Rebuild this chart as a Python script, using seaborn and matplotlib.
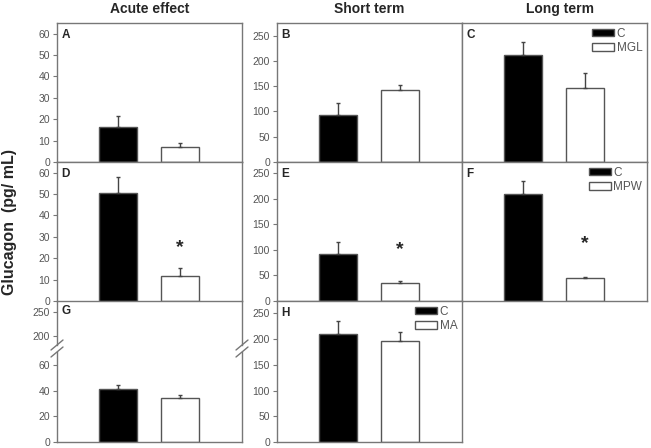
import numpy as np
import pandas as pd
import matplotlib
matplotlib.use("Agg")
import matplotlib.pyplot as plt
from matplotlib.lines import Line2D
import seaborn as sns

# wartości (średnia, błąd w górę)
acute_mgl = [16.5, 7.0]
acute_mgl_err = [5.1, 1.9]
short_mgl = [93.5, 142.6]
short_mgl_err = [22.5, 10.0]
long_mgl = [211.0, 146.0]
long_mgl_err = [26.0, 30.0]

acute_mpw = [50.5, 11.5]
acute_mpw_err = [7.6, 3.9]
short_mpw = [92.0, 35.7]
short_mpw_err = [23.6, 2.6]
long_mpw = [210.0, 44.8]
long_mpw_err = [25.7, 2.6]

acute_ma = [41.1, 33.9]
acute_ma_err = [3.4, 2.3]
short_ma = [210.0, 196.0]
short_ma_err = [25.7, 17.0]

star_pos = {'D': 25, 'E': 100, 'F': 112}
col_titles = ['Acute effect', 'Short term', 'Long term']

W, H = 651, 448
GRAY = '#777777'
TXT = '#555555'

sns.set_style('white')
plt.rcParams['font.family'] = ['Liberation Sans', 'DejaVu Sans']

fig = plt.figure(figsize=(W / 100, H / 100), dpi=100)


def box(left, top, right, bottom):
    return [left / W, 1 - bottom / H, (right - left) / W, (bottom - top) / H]


def style_ax(ax, ylim, ticks, show_ticks=True):
    ax.set_xlim(-0.985, 2.0)
    ax.set_ylim(*ylim)
    ax.set_xticks([])
    ax.set_xlabel('')
    ax.set_ylabel('')
    for s in ax.spines.values():
        s.set_color(GRAY)
        s.set_linewidth(1.0)
    if show_ticks:
        ax.set_yticks(ticks)
        ax.tick_params(axis='y', direction='out', length=3, width=0.8, color=GRAY,
                       labelsize=7.5, labelcolor=TXT, pad=2, left=True)
    else:
        ax.set_yticks([])


def draw_bars(ax, labels, means, errs, legend=False):
    df = pd.DataFrame({'grupa': labels, 'wartosc': means})
    sns.barplot(data=df, x='grupa', y='wartosc', hue='grupa', order=labels,
                hue_order=labels, palette=['black', 'white'], edgecolor='#555555',
                linewidth=1.0, width=0.61, legend=legend, ax=ax)
    ax.errorbar([0, 1], means, yerr=[[0, 0], errs], fmt='none', ecolor='#444444',
                elinewidth=1.0, capsize=1.5, capthick=1.0)
    if legend:
        sns.move_legend(ax, 'upper right', title=None, frameon=False, fontsize=8.5,
                        handlelength=1.9, handleheight=0.6, handletextpad=0.2,
                        labelspacing=0.2, borderaxespad=0.3, borderpad=0.1)
        for t in ax.get_legend().get_texts():
            t.set_color(TXT)


def panel_label(ax, letter):
    ax.text(0.025, 0.96, letter, transform=ax.transAxes, fontsize=8.5,
            fontweight='bold', va='top', ha='left')


cols = [(57, 242), (277, 462), (462, 647)]
rows = [(23, 162), (162, 301), (301, 442)]

panels = [
    ('A', 0, 0, ['C', 'MGL'], acute_mgl, acute_mgl_err, (0, 65), range(0, 61, 10), True, False),
    ('B', 0, 1, ['C', 'MGL'], short_mgl, short_mgl_err, (0, 275), range(0, 251, 50), True, False),
    ('C', 0, 2, ['C', 'MGL'], long_mgl, long_mgl_err, (0, 275), range(0, 251, 50), False, True),
    ('D', 1, 0, ['C', 'MPW'], acute_mpw, acute_mpw_err, (0, 65), range(0, 61, 10), True, False),
    ('E', 1, 1, ['C', 'MPW'], short_mpw, short_mpw_err, (0, 272), range(0, 251, 50), True, False),
    ('F', 1, 2, ['C', 'MPW'], long_mpw, long_mpw_err, (0, 272), range(0, 251, 50), False, True),
    ('H', 2, 1, ['C', 'MA'], short_ma, short_ma_err, (0, 274), range(0, 251, 50), True, True),
]

for letter, r, c, labels, means, errs, ylim, ticks, show_ticks, leg in panels:
    ax = fig.add_axes(box(cols[c][0], rows[r][0], cols[c][1], rows[r][1]))
    draw_bars(ax, labels, means, errs, legend=leg)
    style_ax(ax, ylim, ticks, show_ticks)
    panel_label(ax, letter)
    if letter in star_pos:
        ax.text(1, star_pos[letter], '*', ha='center', va='center', fontsize=14,
                fontweight='bold')

# panel G z przerwaną osią
ax_top = fig.add_axes(box(57, 301, 242, 345))
ax_low = fig.add_axes(box(57, 352, 242, 442))
draw_bars(ax_low, ['C', 'MA'], acute_ma, acute_ma_err)
style_ax(ax_low, (0, 70), range(0, 61, 20))
ax_low.spines['top'].set_visible(False)
style_ax(ax_top, (180, 274), [200, 250])
ax_top.spines['top'].set_visible(False)
ax_top.spines['bottom'].set_visible(False)
ax_top.patch.set_alpha(0)
panel_label(ax_top, 'G')
ax_top.texts[0].set_position((0.025, 0.92))

for xp in (57, 242):
    for yp in (345, 352):
        fig.add_artist(Line2D([(xp - 6) / W, (xp + 6) / W],
                              [1 - (yp + 5) / H, 1 - (yp - 5) / H],
                              color=GRAY, lw=1.0))

# tytuły kolumn
title_x = [150, 369, 560]
for x, t in zip(title_x, col_titles):
    fig.text(x / W, 1 - 9 / H, t, ha='center', va='center', fontsize=10,
             fontweight='bold')

fig.text(10 / W, 1 - 222 / H, 'Glucagon  (pg/ mL)', rotation=90, ha='center',
         va='center', fontsize=11.5, fontweight='bold')

fig.savefig('out.png', dpi=100)
